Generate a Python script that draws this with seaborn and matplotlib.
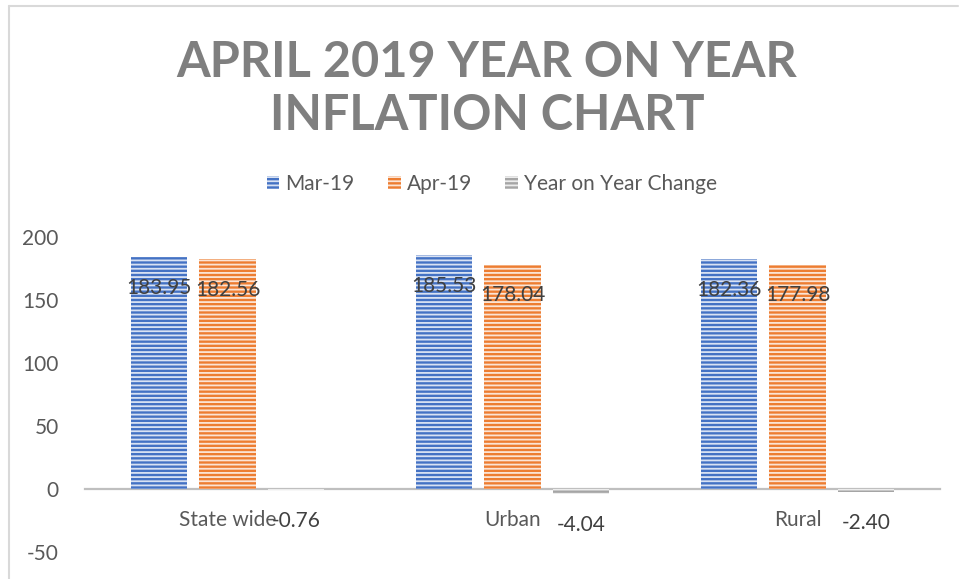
import matplotlib
matplotlib.use("Agg")
import matplotlib.pyplot as plt
from matplotlib.patches import Patch
from matplotlib.lines import Line2D
import seaborn as sns
import pandas as pd

categories = ["State wide", "Urban", "Rural"]
series_names = ["Mar-19", "Apr-19", "Year on Year Change"]
mar_19 = [183.95, 185.53, 182.36]
apr_19 = [182.56, 178.04, 177.98]
yoy_change = [-0.76, -4.04, -2.40]
y_ticks = [-50, 0, 50, 100, 150, 200]
title = "APRIL 2019 YEAR ON YEAR\nINFLATION CHART"

colors = ["#4472C4", "#ED7D31", "#A5A5A5"]

df = pd.DataFrame({
    "category": categories * 3,
    "series": sum([[s] * len(categories) for s in series_names], []),
    "value": mar_19 + apr_19 + yoy_change,
})

sns.set_theme(style="white")
plt.rcParams["font.family"] = ["Lato", "DejaVu Sans"]
plt.rcParams["hatch.linewidth"] = 1.3

fig = plt.figure(figsize=(9.59, 5.79), dpi=100)
ax = fig.add_axes([85 / 959, 1 - 552 / 579, (940 - 85) / 959, (552 - 237) / 579])

sns.barplot(data=df, x="category", y="value", hue="series", order=categories,
            hue_order=series_names, palette=colors, width=0.72, gap=0.17,
            ax=ax, legend=False, saturation=1)

for p in ax.patches:
    p.set_hatch("----")
    p.set_edgecolor((1, 1, 1, 0.8))
    p.set_linewidth(0)

# data labels
for cont in ax.containers:
    for rect, v in zip(cont, cont.datavalues):
        x = rect.get_x() + rect.get_width() / 2
        y = v
        ax.annotate(f"{v:.2f}", (x, y), xytext=(0, -22), textcoords="offset points",
                    ha="center", va="center", fontsize=15, color="#404040")

ax.set_ylim(-50, 200)
ax.set_xlim(-0.5, 2.5)
ax.set_yticks(y_ticks)
ax.set_yticklabels([str(t) for t in y_ticks])
ax.set_xlabel("")
ax.set_ylabel("")
for s in ["top", "right", "left"]:
    ax.spines[s].set_visible(False)
ax.spines["bottom"].set_position(("data", 0))
ax.spines["bottom"].set_color("#BFBFBF")
ax.spines["bottom"].set_linewidth(1.6)
ax.spines["bottom"].set_zorder(0.5)
ax.tick_params(axis="x", length=0, pad=15, labelsize=15, labelcolor="#595959")
ax.tick_params(axis="y", length=0, pad=19, labelsize=15, labelcolor="#595959")

handles = [Patch(facecolor=c, edgecolor=(1, 1, 1, 0.8), hatch="----", linewidth=0) for c in colors]
fig.legend(handles, series_names, loc="center", bbox_to_anchor=(492 / 959, 1 - 184 / 579),
           ncol=3, frameon=False, fontsize=15, labelcolor="#595959",
           handlelength=0.6, handleheight=0.6, handletextpad=0.3, columnspacing=1.6)

fig.text(487 / 959, 1 - 89 / 579, title, ha="center", va="center", fontsize=35,
         fontweight="bold", color="#7F7F7F", linespacing=1.2)

# chart area border (left and top)
fig.add_artist(Line2D([8.5 / 959, 8.5 / 959], [0, 1 - 5.5 / 579], color="#D9D9D9", lw=1.5))
fig.add_artist(Line2D([8.5 / 959, 958 / 959], [1 - 5.5 / 579, 1 - 5.5 / 579], color="#D9D9D9", lw=1.5))

fig.savefig("out.png", dpi=100, facecolor="white")
